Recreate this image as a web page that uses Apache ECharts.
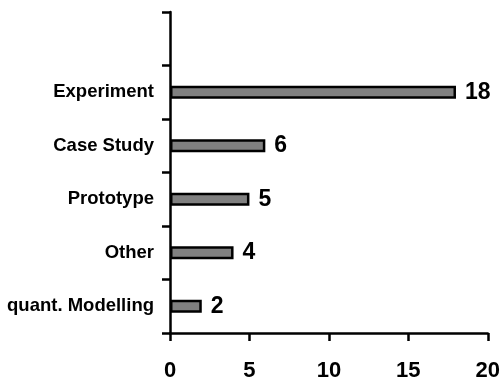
<!DOCTYPE html>
<html>
<head>
<meta charset="utf-8">
<script src="https://cdn.jsdelivr.net/npm/echarts@6/dist/echarts.min.js"></script>
<style>html,body{margin:0;padding:0;background:#fff;}#c{width:503px;height:383px;}</style>
</head>
<body>
<div id="c"></div>
<script>
var categories = ['quant. Modelling', 'Other', 'Prototype', 'Case Study', 'Experiment', ''];
var values = [2, 4, 5, 6, 18, null];
var xTicks = [0, 5, 10, 15, 20];

var chart = echarts.init(document.getElementById('c'));
chart.setOption({
  animation: false,
  backgroundColor: '#fff',
  grid: { left: 170, right: 15, top: 12, bottom: 50, containLabel: false },
  xAxis: {
    type: 'value', min: xTicks[0], max: xTicks[xTicks.length - 1], interval: 5,
    splitLine: { show: false },
    axisLine: { show: true, lineStyle: { color: '#000', width: 2.5 } },
    axisTick: { show: true, length: 8, lineStyle: { color: '#000', width: 2.5 } },
    axisLabel: { color: '#000', fontFamily: 'Liberation Sans, Arial', fontWeight: 'bold', fontSize: 22, margin: 27 }
  },
  yAxis: {
    type: 'category', data: categories,
    axisLine: { show: true, lineStyle: { color: '#000', width: 2.5 } },
    axisTick: { show: true, length: 8, alignWithLabel: false, lineStyle: { color: '#000', width: 2.5 } },
    axisLabel: { color: '#000', fontFamily: 'Liberation Sans, Arial', fontWeight: 'bold', fontSize: 18.5, margin: 16 }
  },
  series: [{
    type: 'bar', data: values, barWidth: 13,
    itemStyle: { color: '#808080', borderColor: '#000', borderWidth: 2.5 },
    label: { show: true, position: 'right', distance: 9, color: '#000', fontFamily: 'Liberation Sans, Arial', fontWeight: 'bold', fontSize: 23 }
  }]
});
</script>
</body>
</html>
